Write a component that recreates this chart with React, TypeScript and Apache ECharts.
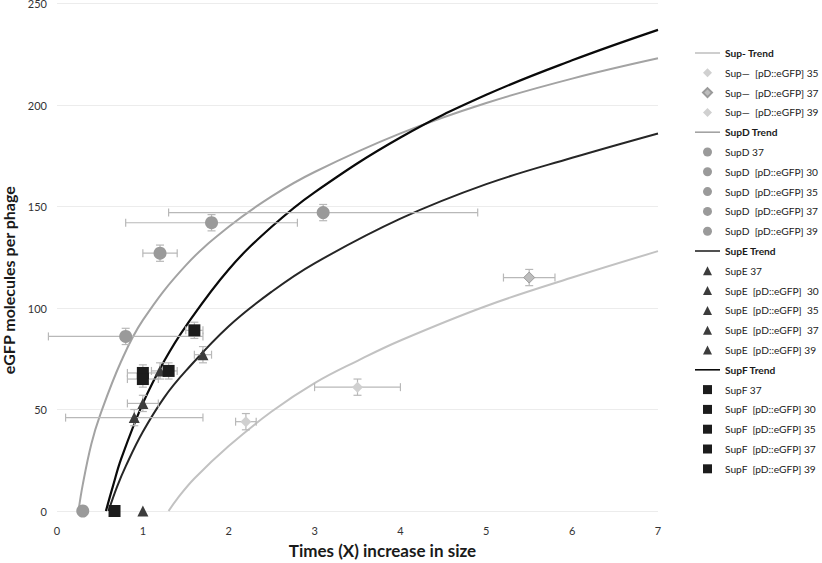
import React, { useEffect, useRef } from "react";
import * as echarts from "echarts";

// ---- Trend lines ----
const supMinusTrend: [number, number][] = [[1.3,0],[1.4,6],[1.6,16],[2,32],[2.5,49],[3,63],[3.5,74],[4,84],[5,101],[6,115],[7,128]];
const supDTrend: [number, number][] = [[0.25,0],[0.3,13],[0.4,33],[0.5,47],[0.75,74],[1,94],[1.5,121],[2,140],[2.5,155],[3,167],[4,186],[5,201],[6,213],[7,223]];
const supETrend: [number, number][] = [[0.6,0],[0.7,12],[0.8,22],[1,39],[1.25,56],[1.5,69],[2,91],[2.5,108],[3,122],[4,144],[5,161],[6,174],[7,186]];
const supFTrend: [number, number][] = [[0.57,0],[0.65,12],[0.75,26],[1,53],[1.25,74],[1.5,91],[2,119],[2.5,140],[3,157],[4,184],[5,205],[6,222],[7,237]];

// ---- Points: names, x, y, x-error, y-error ----
const supMinusNames = ["Sup—  [pD::eGFP] 35", "Sup—  [pD::eGFP] 37", "Sup—  [pD::eGFP] 39"];
const supMinusX = [2.2, 5.5, 3.5];
const supMinusY = [44, 115, 61];
const supMinusXErr = [0.12, 0.3, 0.5];
const supMinusYErr = [4, 4, 4];

const supDNames = ["SupD 37", "SupD  [pD::eGFP] 30", "SupD  [pD::eGFP] 35", "SupD  [pD::eGFP] 37", "SupD  [pD::eGFP] 39"];
const supDX = [0.3, 0.8, 1.2, 1.8, 3.1];
const supDY = [0, 86, 127, 142, 147];
const supDXErr = [0, 0.9, 0.2, 1.0, 1.8];
const supDYErr = [0, 4, 4, 4, 4];

const supENames = ["SupE 37", "SupE  [pD::eGFP]  30", "SupE  [pD::eGFP]  35", "SupE  [pD::eGFP]  37", "SupE  [pD::eGFP] 39"];
const supEX = [1.0, 0.9, 1.0, 1.2, 1.7];
const supEY = [0, 46, 53, 69, 77];
const supEXErr = [0, 0.8, 0.18, 0.1, 0.1];
const supEYErr = [0, 4, 4, 4, 4];

const supFNames = ["SupF 37", "SupF  [pD::eGFP] 30", "SupF  [pD::eGFP] 35", "SupF  [pD::eGFP] 37", "SupF  [pD::eGFP] 39"];
const supFX = [0.67, 1.0, 1.0, 1.3, 1.6];
const supFY = [0, 68, 65, 69, 89];
const supFXErr = [0, 0.18, 0.18, 0.1, 0.1];
const supFYErr = [0, 4, 4, 4, 4];

const xTicks = [0, 1, 2, 3, 4, 5, 6, 7];
const yTicks = [0, 50, 100, 150, 200, 250];

const FONT = "Lato";

type Group = {
  trendName: string; trend: [number, number][]; trendColor: string; trendWidth: number;
  names: string[]; xs: number[]; ys: number[]; xe: number[]; ye: number[];
  symbol: string; icon: string; size: number; colors: string[]; borders?: (string | null)[];
};

const groups: Group[] = [
  { trendName: "Sup- Trend", trend: supMinusTrend, trendColor: "#c2c2c2", trendWidth: 2,
    names: supMinusNames, xs: supMinusX, ys: supMinusY, xe: supMinusXErr, ye: supMinusYErr,
    symbol: "diamond", icon: "path://M5,0L10,5L5,10L0,5Z", size: 11,
    colors: ["#d0d0d0", "#bdbdbd", "#d0d0d0"], borders: [null, "#9a9a9a", null] },
  { trendName: "SupD Trend", trend: supDTrend, trendColor: "#a3a3a3", trendWidth: 2,
    names: supDNames, xs: supDX, ys: supDY, xe: supDXErr, ye: supDYErr,
    symbol: "circle", icon: "path://M5,0A5,5,0,1,1,5,10A5,5,0,1,1,5,0Z", size: 13,
    colors: ["#9a9a9a", "#9a9a9a", "#9a9a9a", "#9a9a9a", "#9a9a9a"] },
  { trendName: "SupE Trend", trend: supETrend, trendColor: "#262626", trendWidth: 2,
    names: supENames, xs: supEX, ys: supEY, xe: supEXErr, ye: supEYErr,
    symbol: "triangle", icon: "path://M5,0L10,10L0,10Z", size: 11,
    colors: ["#3c3c3c", "#3c3c3c", "#3c3c3c", "#3c3c3c", "#3c3c3c"] },
  { trendName: "SupF Trend", trend: supFTrend, trendColor: "#0a0a0a", trendWidth: 2.2,
    names: supFNames, xs: supFX, ys: supFY, xe: supFXErr, ye: supFYErr,
    symbol: "rect", icon: "path://M0,0H10V10H0Z", size: 12,
    colors: ["#1c1c1c", "#1c1c1c", "#1c1c1c", "#1c1c1c", "#1c1c1c"] },
];

export default function App() {
  const ref = useRef<HTMLDivElement>(null);
  useEffect(() => {
    if (!ref.current) return;
    const chart = echarts.init(ref.current, null, { renderer: "svg" });

    const series: any[] = [];
    const legendData: any[] = [];
    const errData: number[][] = [];

    groups.forEach((g) => {
      series.push({
        name: g.trendName, type: "line", data: g.trend, smooth: 0.4, symbol: "none",
        showSymbol: false, lineStyle: { color: g.trendColor, width: g.trendWidth },
        itemStyle: { color: g.trendColor }, z: 2, silent: true,
      });
      legendData.push({ name: g.trendName, icon: "path://M0,0H25V1.6H0Z", itemStyle: { color: g.trendColor }, textStyle: { fontWeight: "bold" } });
      g.names.forEach((n, i) => {
        const border = g.borders ? g.borders[i] : null;
        series.push({
          name: n, type: "scatter", symbol: g.symbol, symbolSize: g.size,
          data: [[g.xs[i], g.ys[i]]], z: 4,
          itemStyle: { color: g.colors[i], opacity: 1, borderColor: border || undefined, borderWidth: border ? 1 : 0 },
        });
        legendData.push({ name: n, icon: g.icon });
        if (g.xe[i] > 0 || g.ye[i] > 0) errData.push([g.xs[i], g.ys[i], g.xe[i], g.ye[i]]);
      });
    });

    series.push({
      type: "custom", z: 3, silent: true, clip: false,
      data: errData,
      encode: { x: 0, y: 1 },
      renderItem: (params: any, api: any) => {
        const x = api.value(0), y = api.value(1), ex = api.value(2), ey = api.value(3);
        const stroke = "#b8b8b8";
        const st = { stroke, lineWidth: 1.2 };
        const cap = 4;
        const children: any[] = [];
        if (ex > 0) {
          const l = api.coord([x - ex, y]);
          const r = api.coord([x + ex, y]);
          children.push({ type: "line", shape: { x1: l[0], y1: l[1], x2: r[0], y2: r[1] }, style: st });
          children.push({ type: "line", shape: { x1: l[0], y1: l[1] - cap, x2: l[0], y2: l[1] + cap }, style: st });
          children.push({ type: "line", shape: { x1: r[0], y1: r[1] - cap, x2: r[0], y2: r[1] + cap }, style: st });
        }
        if (ey > 0) {
          const t = api.coord([x, y + ey]);
          const b = api.coord([x, y - ey]);
          children.push({ type: "line", shape: { x1: t[0], y1: t[1], x2: b[0], y2: b[1] }, style: st });
          children.push({ type: "line", shape: { x1: t[0] - cap, y1: t[1], x2: t[0] + cap, y2: t[1] }, style: st });
          children.push({ type: "line", shape: { x1: b[0] - cap, y1: b[1], x2: b[0] + cap, y2: b[1] }, style: st });
        }
        return { type: "group", children };
      },
    });

    chart.setOption({
      animation: false,
      backgroundColor: "#ffffff",
      textStyle: { fontFamily: FONT },
      grid: { left: 57, right: 164, top: 3.5, bottom: 52, containLabel: false, outerBoundsMode: "none" },
      xAxis: {
        type: "value", min: xTicks[0], max: xTicks[xTicks.length - 1], interval: 1,
        name: "Times (X) increase in size", nameLocation: "middle", nameGap: 31,
        nameTextStyle: { fontFamily: FONT, fontWeight: "bold", fontSize: 17, color: "#1a1a1a", padding: [0, 0, 0, 50] },
        axisLine: { show: false }, axisTick: { show: false }, splitLine: { show: false },
        axisLabel: { color: "#333", fontSize: 11, margin: 14, fontFamily: FONT },
      },
      yAxis: {
        type: "value", min: yTicks[0], max: yTicks[yTicks.length - 1], interval: 50,
        name: "eGFP molecules per phage", nameLocation: "middle", nameGap: 31,
        nameTextStyle: { fontFamily: FONT, fontWeight: "bold", fontSize: 16, color: "#1a1a1a", padding: [0, 46, 0, 0] },
        axisLine: { show: false }, axisTick: { show: false },
        splitLine: { show: true, lineStyle: { color: "#ececec", width: 1 } },
        axisLabel: { color: "#333", fontSize: 11, margin: 10, fontFamily: FONT },
      },
      legend: {
        orient: "vertical", left: 690, top: 41, itemWidth: 25, itemHeight: 9, itemGap: 5.8,
        symbolKeepAspect: true, selectedMode: false,
        textStyle: { fontFamily: FONT, fontSize: 10.2, color: "#1a1a1a", lineHeight: 14 },
        data: legendData,
      },
      series,
    });
    return () => chart.dispose();
  }, []);
  return <div ref={ref} style={{ position: "fixed", left: 0, top: 0, width: 822, height: 563 }} />;
}
